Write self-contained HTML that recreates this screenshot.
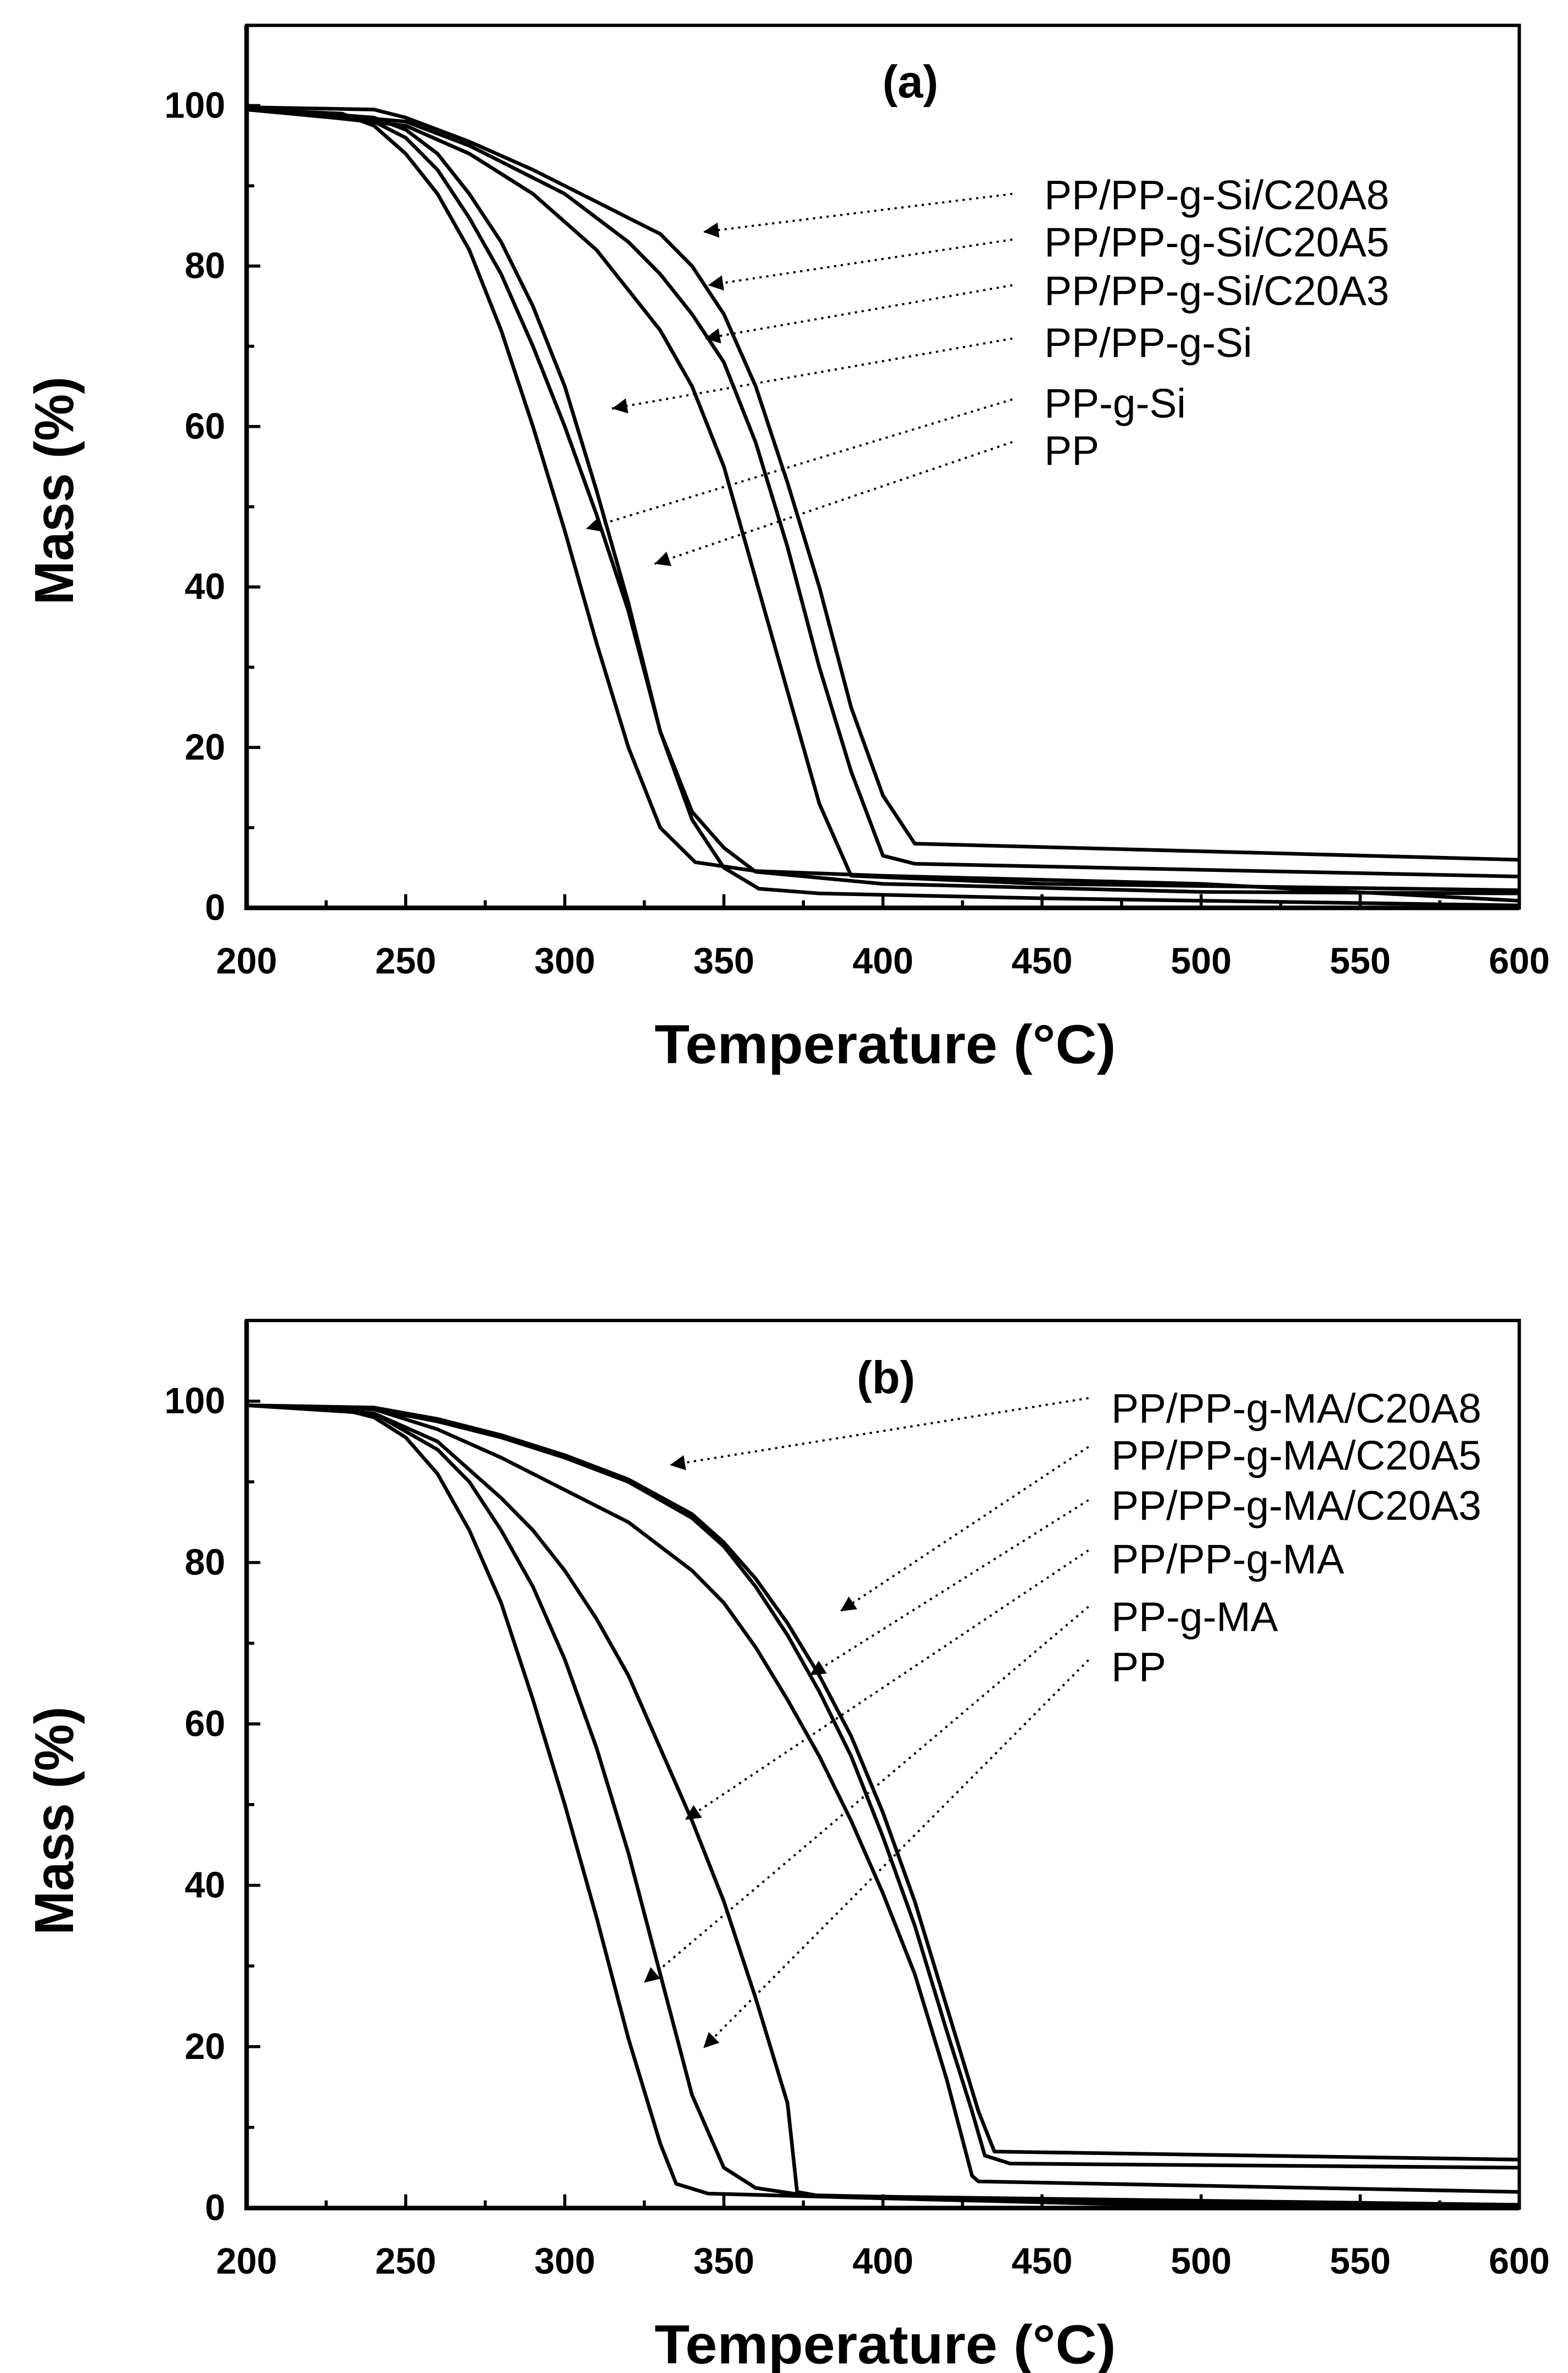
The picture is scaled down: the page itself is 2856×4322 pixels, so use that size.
<!DOCTYPE html>
<html><head><meta charset="utf-8"><style>
html,body{margin:0;padding:0;background:#fff}
svg{display:block}
text{font-family:"Liberation Sans Narrow","Liberation Sans",sans-serif;fill:#000}
</style></head><body>
<svg id="fig" xmlns="http://www.w3.org/2000/svg" width="2856" height="4322" viewBox="0 0 1030 1558">
<defs><marker id="ah" viewBox="0 0 10 10" refX="10" refY="5" markerWidth="14" markerHeight="10" markerUnits="userSpaceOnUse" orient="auto"><path d="M0,0 L10,5 L0,10 z" fill="#000"/></marker></defs>
</svg>
<script>
// Panel (a) data
const xTicks=[200,250,300,350,400,450,500,550,600];
const yTicks=[0,20,40,60,80,100];
const aNames=["PP/PP-g-Si/C20A8","PP/PP-g-Si/C20A5","PP/PP-g-Si/C20A3","PP/PP-g-Si","PP-g-Si","PP"];
const aPP=[[200,99.5],[230,99],[240,97.5],[250,94],[260,89],[270,82],[280,72],[290,60],[300,47],[310,33],[320,20],[330,10],[341,5.7],[360,4.6],[400,4],[500,3],[600,0.9]];
const aPPgSi=[[200,99.5],[240,98],[250,96],[260,92],[270,86],[280,79],[290,70],[300,60],[310,49],[320,37],[330,22],[340,11],[350,5],[361,2.4],[380,1.8],[450,1.2],[600,0.3]];
const aBlend=[[200,99.7],[240,98.5],[250,97],[260,94],[270,89],[280,83],[290,75],[300,65],[310,52],[320,38],[330,22],[340,12],[350,7.5],[360,4.5],[400,3],[500,2],[600,1.8]];
const aA3=[[200,99.7],[250,97.5],[270,94],[290,89],[300,85.5],[310,82],[320,77],[330,72],[340,65],[350,55],[360,41],[370,27],[380,13],[390,4],[450,3],[600,2.2]];
const aA5=[[200,99.8],[250,98],[270,95],[290,91],[300,89],[310,86],[320,83],[330,79],[340,74],[350,68],[360,58],[370,45],[380,30],[390,17],[400,6.5],[410,5.5],[600,3.9]];
const aA8=[[200,99.8],[240,99.5],[250,98.5],[270,95.5],[290,92],[310,88],[320,86],[330,84],[340,80],[350,74],[360,65],[370,53],[380,40],[390,25],[400,14],[410,8],[600,6]];
// Panel (b) data
const bNames=["PP/PP-g-MA/C20A8","PP/PP-g-MA/C20A5","PP/PP-g-MA/C20A3","PP/PP-g-MA","PP-g-MA","PP"];
const bPP=[[200,99.5],[230,99],[240,98],[250,95.5],[260,91],[270,84],[280,75],[290,63],[300,50],[310,36],[320,21],[330,8],[335,3],[345,1.8],[400,1.2],[470,0.5],[600,0.3]];
const bPPgMA=[[200,99.5],[240,98.5],[260,94],[270,90],[280,84],[290,77],[300,68],[310,57],[320,44],[330,29],[340,14],[350,5],[360,2.5],[375,1.6],[450,1],[600,0.4]];
const bBlend=[[200,99.5],[240,98.5],[260,95],[280,88],[290,84],[300,79],[310,73],[320,66],[330,57],[340,48],[350,38],[360,26],[370,13],[373,2],[380,1.5],[600,0.4]];
const bA3=[[200,99.5],[240,99],[260,96.5],[280,93],[300,89],[320,85],[340,79],[350,75],[360,69.5],[370,63],[380,56],[390,48],[400,39],[410,29],[420,16],[428,4],[430,3.3],[600,2]];
const bA5=[[200,99.5],[240,99],[260,97.5],[280,95.5],[300,93],[320,90],[340,85.5],[350,82],[360,77],[370,71],[380,64],[390,56],[400,46],[410,35],[420,22],[428,12],[432,6.5],[440,5.5],[600,5]];
const bA8=[[200,99.5],[240,99.2],[260,97.8],[280,95.8],[300,93.3],[320,90.3],[340,86],[350,82.5],[360,78],[370,72.5],[380,66],[390,58.5],[400,49],[410,38],[420,25],[430,12],[435,7],[600,6]];

const NS="http://www.w3.org/2000/svg";
const svg=document.getElementById('fig');
function mk(tag,attrs,parent){const e=document.createElementNS(NS,tag);for(const k in attrs)e.setAttribute(k,attrs[k]);(parent||svg).appendChild(e);return e;}

function panel(cfg){
  const L=162,R=998,B=cfg.bottom,T=cfg.bottom-cfg.per20*5.5;
  const sx=v=>L+(v-200)/400*(R-L);
  const sy=v=>B-v/20*cfg.per20;
  const g=mk('g',{});
  
  
  const frame=mk('rect',{x:L,y:T,width:R-L,height:B-T,fill:'none',stroke:'#000','stroke-width':2.2},g);
  
  
  const ax=mk('path',{d:`M${L},${T} L${L},${B} L${R},${B}`,fill:'none',stroke:'#000','stroke-width':3},g);
  
  
  for(let v=200;v<=600;v+=25){
    const major=(v%50===0);
    const t=mk('line',{x1:sx(v),x2:sx(v),y1:B,y2:B-(major?9:5),stroke:'#000','stroke-width':2},g);
    
    
  }
  xTicks.forEach(v=>{
    const t=mk('text',{x:sx(v),y:B+43,'text-anchor':'middle','font-size':24,'font-weight':'bold'},g);
    t.textContent=v;
    
    
  });
  for(let v=0;v<=110;v+=10){
    const major=(v%20===0);
    const t=mk('line',{x1:L,x2:L+(major?9:5),y1:sy(v),y2:sy(v),stroke:'#000','stroke-width':2},g);
    
    
  }
  yTicks.forEach(v=>{
    const t=mk('text',{x:L-14,y:sy(v)+8,'text-anchor':'end','font-size':24,'font-weight':'bold'},g);
    t.textContent=v;
    
    
  });
  const xt=mk('text',{x:(430+733)/2,y:B+102,'text-anchor':'middle','font-size':36,'font-weight':'bold',textLength:303,lengthAdjust:'spacingAndGlyphs'},g);
  xt.textContent='Temperature (°C)';
  
  
  const ycx=48,ycy=sy(cfg.ytitleMid);
  const yt=mk('text',{x:ycx,y:ycy,'text-anchor':'middle','font-size':36,'font-weight':'bold',transform:`rotate(-90 ${ycx} ${ycy})`,textLength:150,lengthAdjust:'spacingAndGlyphs'},g);
  yt.textContent='Mass (%)';
  
  
  const pl=mk('text',{x:cfg.labelX,y:sy(101)+0,'text-anchor':'middle','font-size':30,'font-weight':'bold'},g);
  pl.textContent=cfg.label;
  
  
  cfg.series.forEach((s,i)=>{
    const d=s.map((p,j)=>(j?'L':'M')+sx(p[0]).toFixed(1)+','+sy(p[1]).toFixed(1)).join(' ');
    const p=mk('path',{d:d,fill:'none',stroke:'#000','stroke-width':2.4,'stroke-linejoin':'round'},g);
    
    
  });
  cfg.annot.forEach((a,i)=>{
    const ln=mk('line',{x1:a[0],y1:a[1],x2:a[2],y2:a[3],stroke:'#000','stroke-width':1.4,'stroke-dasharray':'1.5 3','marker-end':'url(#ah)'},g);
    
    
    const tx=mk('text',{x:a[0]+cfg.textDx,y:a[4],'font-size':27},g);
    tx.textContent=cfg.names[i];
    
    
  });
}
panel({id:'a',bottom:596,per20:105.4,label:'(a)',labelX:598,ytitleMid:52,names:aNames,
  series:[aA8,aA5,aA3,aBlend,aPPgSi,aPP],textDx:21,
  annot:[[665,127,462,152,137],[665,157,465,187,168],[665,187,463,222,200],[665,222,402,268,234],[665,262,385,347,274],[665,290,430,370,305]]});
panel({id:'b',bottom:1450,per20:106,label:'(b)',labelX:582,ytitleMid:48,names:bNames,
  series:[bA8,bA5,bA3,bBlend,bPPgMA,bPP],textDx:15,
  annot:[[715,918,440,962,934],[715,950,552,1058,965],[715,985,532,1100,998],[715,1018,450,1195,1033],[715,1055,423,1302,1071],[715,1090,462,1345,1104]]});
</script>
</body></html>
